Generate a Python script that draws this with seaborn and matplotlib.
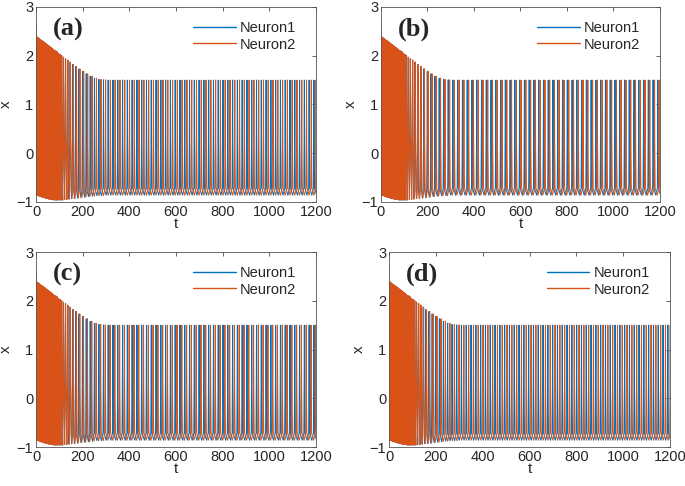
import numpy as np
import pandas as pd
import matplotlib.pyplot as plt
import seaborn as sns


# Spike times (neuron 1); period grows from ~2.5 to ~20.5
transient_t = [0, 2.5, 5.1, 7.7, 10.3, 13, 15.8, 18.6, 21.5, 24.5,
               27.6, 30.8, 34.1, 37.5, 41, 44.6, 48.3, 52.2, 56.3, 60.5,
               64.9, 69.5, 74.3, 79.3, 84.6, 90.2, 96.2, 102.7, 109.8, 117.6,
               126.2, 135.7, 146.2, 157.8, 170.5, 184.3, 199.2, 215.2, 232.3, 250.4,
               269.4, 289.1, 309.3]
transient_top = [2.40, 2.39, 2.38, 2.37, 2.36, 2.35, 2.34, 2.33, 2.32, 2.31,
                 2.30, 2.29, 2.28, 2.27, 2.25, 2.24, 2.23, 2.21, 2.20, 2.18,
                 2.17, 2.15, 2.13, 2.11, 2.10, 2.08, 2.05, 2.03, 2.00, 1.97,
                 1.94, 1.91, 1.87, 1.82, 1.78, 1.73, 1.68, 1.63, 1.58, 1.54,
                 1.515, 1.505, 1.50]
transient_low = [-0.85, -0.86, -0.86, -0.87, -0.87, -0.88, -0.88, -0.89, -0.89, -0.90,
                 -0.90, -0.91, -0.91, -0.92, -0.92, -0.93, -0.93, -0.94, -0.94, -0.95,
                 -0.95, -0.95, -0.96, -0.96, -0.96, -0.96, -0.96, -0.96, -0.96, -0.95,
                 -0.95, -0.94, -0.93, -0.93, -0.92, -0.91, -0.90, -0.89, -0.88, -0.87,
                 -0.87, -0.86, -0.86]
# half-width of each transient spike (triangular early on, sharp later)
transient_width = [1.1, 1.15, 1.15, 1.15, 1.2, 1.25, 1.25, 1.3, 1.35, 1.4,
                   1.45, 1.5, 1.55, 1.6, 1.6, 1.65, 1.75, 1.85, 1.9, 2.0,
                   2.05, 2.15, 2.25, 2.4, 2.5, 2.7, 2.9, 3.2, 3.5, 3.8,
                   3.9, 3.8, 3.6, 3.3, 3.0, 2.7, 2.5, 2.35, 2.25, 2.2,
                   2.2, 2.2, 2.2]
steady_t = [329.9, 350.4, 370.9, 391.4, 411.9, 432.4, 452.9, 473.4, 493.9, 514.4,
            534.9, 555.4, 575.9, 596.4, 616.9, 637.4, 657.9, 678.4, 698.9, 719.4,
            739.9, 760.4, 780.9, 801.4, 821.9, 842.4, 862.9, 883.4, 903.9, 924.4,
            944.9, 965.4, 985.9, 1006.4, 1026.9, 1047.4, 1067.9, 1088.4, 1108.9, 1129.4,
            1149.9, 1170.4, 1190.9]
steady_top = 1.50
steady_low = -0.86
steady_width = 2.2
neuron2_start = 2.65                     # first peak of neuron 2 at t = 0
panel_labels = ['(a)', '(b)', '(c)', '(d)']
neuron2_phase = [0.45, 0.3, 0.38, 0.5]   # steady phase lag of neuron 2 (fraction of period)
desync_t = [110, 240]                    # neuron 2 drifts from in-sync to its lag here

# shape of one spike: (offset in half-widths, fraction of amplitude)
SPIKE_SHAPE = [(-1.0, 0.06), (-0.4, 0.5), (0.0, 1.0), (0.4, 0.45), (1.2, 0.06)]

spike_t = transient_t + steady_t
spike_top = transient_top + [steady_top] * len(steady_t)
spike_low = transient_low + [steady_low] * len(steady_t)
spike_w = transient_width + [steady_width] * len(steady_t)


def build_trace(phase=0.0, start=None):
    ts, xs = [], []
    if start is not None:
        ts.append(0.0)
        xs.append(start)
    for i, s in enumerate(spike_t):
        period = spike_t[i + 1] - s if i + 1 < len(spike_t) else 20.5
        ramp = np.clip((s - desync_t[0]) / (desync_t[1] - desync_t[0]), 0, 1)
        t0 = s + phase * ramp * period
        amp = spike_top[i] - spike_low[i]
        for dt, frac in SPIKE_SHAPE:
            ts.append(t0 + dt * spike_w[i])
            xs.append(spike_low[i] + frac * amp)
        ts.append(t0 + 0.55 * period)
        xs.append(spike_low[i])
    return ts, xs


sns.set_theme(style="white")
plt.rcParams['font.family'] = ['Liberation Sans', 'DejaVu Sans']

colors = {'Neuron1': '#0072BD', 'Neuron2': '#D95319'}
positions = [[0.0526, 0.5844, 0.4088, 0.4012],
             [0.5562, 0.5844, 0.4073, 0.4012],
             [0.0526, 0.0802, 0.4088, 0.4012],
             [0.5679, 0.0802, 0.4102, 0.4012]]

fig = plt.figure(figsize=(6.85, 4.86), dpi=100)

for k in range(4):
    ax = fig.add_axes(positions[k])
    t1, x1 = build_trace()
    t2, x2 = build_trace(neuron2_phase[k], start=neuron2_start)
    df = pd.concat([
        pd.DataFrame({'t': t1, 'x': x1, 'neuron': 'Neuron1'}),
        pd.DataFrame({'t': t2, 'x': x2, 'neuron': 'Neuron2'}),
    ])
    sns.lineplot(data=df, x='t', y='x', hue='neuron', palette=colors,
                 sort=False, estimator=None, linewidth=0.75, ax=ax)
    ax.set_xlim(0, 1200)
    ax.set_ylim(-1, 3)
    ax.set_xticks(range(0, 1201, 200))
    ax.set_yticks([-1, 0, 1, 2, 3])
    ax.tick_params(direction='in', length=3, width=0.5, top=True, right=True,
                   labelsize=10.5, colors='#262626', pad=2)
    for sp in ax.spines.values():
        sp.set_color('#555555')
        sp.set_linewidth(0.6)
    ax.set_xlabel('t', fontsize=11, labelpad=-1, color='#262626')
    ax.set_ylabel('x', fontsize=11, labelpad=3, color='#262626')
    leg = ax.legend(loc='upper right', frameon=False, fontsize=10.5,
                    handlelength=2.9, handletextpad=0.3, labelspacing=0.2,
                    borderaxespad=0.0, bbox_to_anchor=(0.95, 0.96))
    for line in leg.get_lines():
        line.set_linewidth(1.0)
    ax.text(0.06, 0.885, panel_labels[k], transform=ax.transAxes,
            fontsize=19, fontweight='bold', family='Liberation Serif',
            va='center', ha='left')

fig.savefig('out.png', dpi=100)
